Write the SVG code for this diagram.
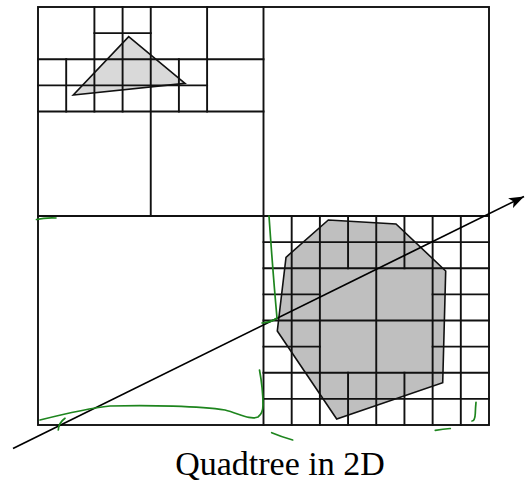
<svg xmlns="http://www.w3.org/2000/svg" width="525" height="486" viewBox="0 0 525 486">
<style>
.g{stroke:#111;stroke-width:1.9;fill:none;stroke-linecap:square}
.sh{stroke:#111;stroke-width:1.6;stroke-linejoin:miter}
.gr{stroke:#1e851e;stroke-width:1.7;fill:none;stroke-linecap:round;stroke-linejoin:round}
.t{font-family:"Liberation Serif","Times New Roman",serif;font-size:34px;fill:#000}
</style>
<defs>
<marker id="ah" markerUnits="userSpaceOnUse" viewBox="0 0 15 11" refX="15" refY="5.5" markerWidth="15" markerHeight="11" orient="auto">
<path d="M0,0 L15,5.5 L0,11 L3.5,5.5 z" fill="#000"/>
</marker>
</defs>
<rect width="525" height="486" fill="#fff"/>
<g id="shapes-fill">
<polygon points="128.7,36.7 185,83.3 73.3,95" fill="#d9d9d9"/>
<polygon points="328.3,220 396,224 445.7,271 442.7,382.7 336.7,419 277.3,331 286,257.3" fill="#bfbfbf"/>
</g>
<g id="grid" class="g">
<rect x="38" y="7" width="451" height="418"/>
<path d="M263.5,7V425 M38,216H489"/>
<path d="M150.75,7V216 M38,111.5H263.5"/>
<path d="M94.4,7V111.5 M38,59.25H263.5 M207.1,7V111.5"/>
<path d="M122.6,7V111.5 M94.4,33.1H150.75 M66.2,59.25V111.5 M38,85.4H207.1 M178.9,59.25V111.5"/>
<path d="M376.25,216V425 M263.5,320.5H489"/>
<path d="M319.88,216V425 M432.63,216V425 M263.5,268.25H489 M263.5,372.75H489"/>
<path d="M291.69,216V425 M460.81,216V425 M263.5,242.125H489 M263.5,398.875H489"/>
<path d="M348.06,216V268.25 M404.44,216V268.25 M348.06,372.75V425 M404.44,372.75V425"/>
<path d="M263.5,294.375H319.88 M432.63,294.375H489 M263.5,346.625H319.88 M432.63,346.625H489"/>
</g>
<g id="shapes-outline" fill="none" class="sh">
<polygon points="128.7,36.7 185,83.3 73.3,95"/>
<polygon points="328.3,220 396,224 445.7,271 442.7,382.7 336.7,419 277.3,331 286,257.3"/>
</g>
<g id="connectors">
<line x1="13" y1="448.5" x2="524" y2="196.5" stroke="#000" stroke-width="1.7" marker-end="url(#ah)"/>
</g>
<g id="annotations" class="gr">
<path d="M36.5,219.5 Q45,217.5 56,218"/>
<path d="M269,216 C271,245 274,285 277,318 Q272,322 262,323"/>
<path d="M40,420 C60,415 90,408 110,406 C150,405 200,406 225,410 C240,414 250,420 258,417 C262,414 263,411 263,405 C263,390 261,378 259.5,370"/>
<path d="M58.3,430 Q58.5,423 65,418.3"/>
<path d="M271.7,432.7 Q282,437 292.7,440"/>
<path d="M472,421 Q475,421 475.3,413.3 Q475.5,407 476,402.3"/>
<path d="M435.3,430.3 Q443,429 450.3,428.5"/>
</g>
<g id="caption">
<text class="t" x="280" y="475" text-anchor="middle">Quadtree in 2D</text>
</g>
</svg>
